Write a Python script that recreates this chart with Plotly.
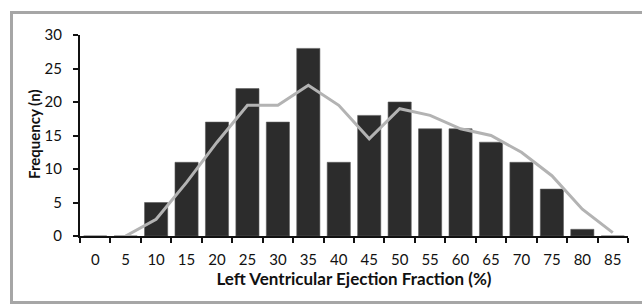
import plotly.graph_objects as go

categories = ["0", "5", "10", "15", "20", "25", "30", "35", "40", "45",
              "50", "55", "60", "65", "70", "75", "80", "85"]
frequency = [0, 0, 5, 11, 17, 22, 17, 28, 11, 18, 20, 16, 16, 14, 11, 7, 1, 0]
trend_x = ["5", "10", "15", "20", "25", "30", "35", "40", "45",
           "50", "55", "60", "65", "70", "75", "80", "85"]
trend_y = [0, 2.5, 8, 14, 19.5, 19.5, 22.5, 19.5, 14.5, 19, 18, 16, 15, 12.5, 9, 4, 0.5]
y_ticks = [0, 5, 10, 15, 20, 25, 30]

W, H = 642, 305
ml, mr, mt, mb = 80, 14, 35, 69
pw, ph = W - ml - mr, H - mt - mb

def px(x):
    return (x - ml) / pw

def py(y):
    return (H - mb - y) / ph

fig = go.Figure()
fig.add_trace(go.Bar(x=categories, y=frequency,
                     marker=dict(color="#2c2c2c", line=dict(color="#5a5a5a", width=0.6)),
                     width=0.76, showlegend=False))
fig.add_trace(go.Scatter(x=trend_x, y=trend_y, mode="lines",
                         line=dict(color="#b3b3b3", width=3), showlegend=False))

frame = dict(color="#a6a6a6", width=3)
frame_shapes = [
    dict(type="line", xref="paper", yref="paper", x0=px(10), x1=px(642), y0=py(12.5), y1=py(12.5), line=frame),
    dict(type="line", xref="paper", yref="paper", x0=px(10), x1=px(642), y0=py(302.5), y1=py(302.5), line=frame),
    dict(type="line", xref="paper", yref="paper", x0=px(11.5), x1=px(11.5), y0=py(11), y1=py(304), line=frame),
]

font = "Lato, Open Sans, sans-serif"
fig.update_layout(
    width=W, height=H,
    margin=dict(l=ml, r=mr, t=mt, b=mb, autoexpand=False),
    paper_bgcolor="white", plot_bgcolor="white",
    font=dict(family=font, size=15, color="#111111"),
    xaxis=dict(type="category", categoryorder="array", categoryarray=categories,
               automargin=False,
               showline=True, linecolor="#111111", linewidth=2,
               ticks="outside", tickson="boundaries", ticklen=5, tickwidth=2, tickcolor="#111111",
               ticklabelstandoff=9, tickfont=dict(size=15), showgrid=False,
               title=dict(text="<b>Left Ventricular Ejection Fraction (%)</b>",
                          font=dict(size=17), standoff=4)),
    yaxis=dict(range=[0, 30], tickvals=y_ticks, automargin=False,
               showline=True, linecolor="#111111", linewidth=2,
               ticks="outside", ticklen=5, tickwidth=2, tickcolor="#111111", showgrid=False,
               ticklabelstandoff=8, zeroline=False, tickfont=dict(size=15)),
    annotations=[dict(text="<b>Frequency (n)</b>", xref="paper", yref="paper",
                      x=px(34), y=py(134), textangle=-90, showarrow=False,
                      xanchor="center", yanchor="middle", font=dict(size=15))],
    shapes=frame_shapes,
)

fig.write_html("out.html", config={"displayModeBar": False},
               post_script="document.body.style.margin='0';document.body.style.overflow='hidden';")
